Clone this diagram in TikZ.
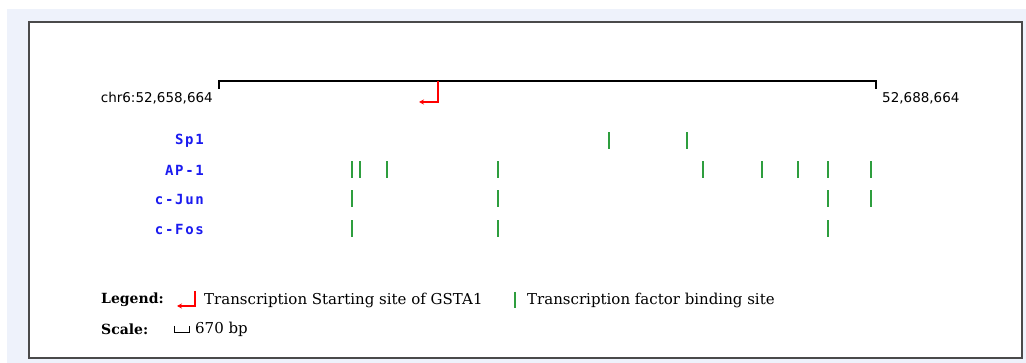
\documentclass[tikz,border=0pt]{standalone}
\usepackage{fontspec}
\setmainfont{DejaVu Serif}
\newfontfamily\coordfont{DejaVu Sans}
\newfontfamily\factorfont[LetterSpace=12]{DejaVu Sans Mono Bold}
\usetikzlibrary{positioning,arrows.meta}
\definecolor{pagebg}{HTML}{EEF2FB}
\definecolor{framegray}{HTML}{4A4A4A}
\definecolor{factorblue}{HTML}{1A1AF0}
\definecolor{sitegreen}{HTML}{2E9E3E}

\begin{document}
\begin{tikzpicture}[x=1pt,y=-1pt,
    ruler/.style={line width=2.2pt, black},
    tss/.style={red, line width=1.2pt, -{Stealth[length=5pt,width=5pt]}},
    site/.style={sitegreen, line width=1.1pt},
    factor/.style={anchor=east, inner sep=0pt, text=factorblue, font=\factorfont\fontsize{14}{16}\selectfont},
    coordlabel/.style={inner sep=0pt, font=\coordfont\fontsize{13.5}{15}\selectfont},
    legendtext/.style={anchor=west, inner sep=0pt, font=\fontsize{15}{17}\selectfont},
    legendhead/.style={anchor=west, inner sep=0pt, font=\bfseries\fontsize{14}{16}\selectfont}]
\useasboundingbox (0,0) rectangle (1026,363);
\fill[pagebg] (7,9) rectangle (1026,363);
\draw[framegray, line width=1.6pt, fill=white] (29,22) rectangle (1022,358);

% chromosome ruler
\coordinate (left) at (219,81);
\coordinate (right) at (876,81);
\draw[ruler] ([yshift=-8pt]left) -- (left) -- (right) -- ([yshift=-8pt]right);
\node[coordlabel, anchor=east] (start) at (213,98) {chr6:52,658,664};
\node[coordlabel, anchor=west] (end) at (882,98) {52,688,664};

% transcription start
\coordinate (tss) at (438,81);
\coordinate (tss tip) at (419,102);
\draw[tss] (tss) |- (tss tip);

% binding sites per factor
\foreach \name/\lab/\yy/\xs in {sp1/Sp1/141/{609,687},
    ap1/AP-1/170/{352,360,387,498,703,762,798,828,871},
    cjun/c-Jun/199/{352,498,828,871},
    cfos/c-Fos/229/{352,498,828}}{
    \node[factor] (\name) at (204,\yy) {\lab};
    \foreach \x in \xs
        \draw[site] (\x,\yy-8.5) -- (\x,\yy+8.5);
}

% legend
\node[legendhead] (legend) at (101,300) {Legend:};
\coordinate (key top) at (195,291);
\coordinate (key tip) at (177,306);
\draw[tss] (key top) |- (key tip);
\node[legendtext] (tss text) at (204,300) {Transcription Starting site of GSTA1};
\draw[site] (515,292) -- (515,308);
\node[legendtext] (site text) at (527,300) {Transcription factor binding site};

% scale
\node[legendhead] (scale) at (101,329) {Scale:};
\draw[black, line width=0.9pt] (174,326) -- (174,332) -- (189,332) -- (189,326);
\node[legendtext] (bp) at (195,329) {670 bp};
\end{tikzpicture}
\end{document}
